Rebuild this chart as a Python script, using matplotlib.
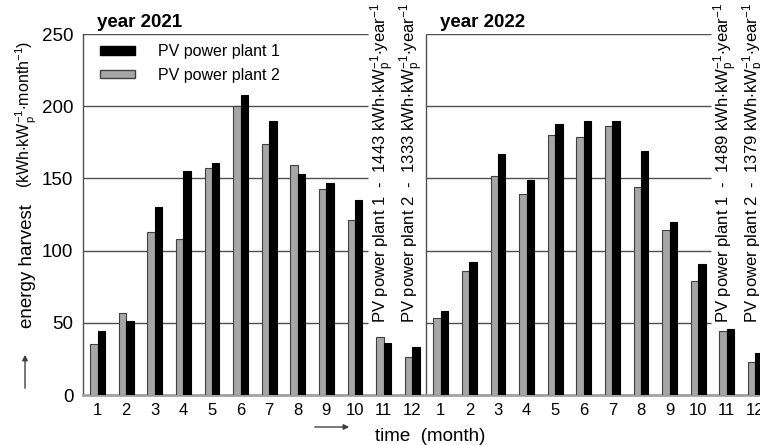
import numpy as np
import matplotlib
matplotlib.use("Agg")
import matplotlib.pyplot as plt
from matplotlib.patches import Patch

plt.rcParams['font.family'] = ['Liberation Sans', 'DejaVu Sans']
plt.rcParams['mathtext.fontset'] = 'custom'
plt.rcParams['mathtext.rm'] = 'Liberation Sans'
plt.rcParams['mathtext.it'] = 'Liberation Sans'
plt.rcParams['mathtext.default'] = 'regular'

# monthly energy harvest (kWh/kWp/month)
months = list(range(1, 13))
years = ['2021', '2022']
plant1_2021 = [44, 51, 130, 155, 161, 208, 190, 153, 147, 135, 36, 33]
plant2_2021 = [35, 57, 113, 108, 157, 200, 174, 159, 143, 121, 40, 26]
plant1_2022 = [58, 92, 167, 149, 188, 190, 190, 169, 120, 91, 46, 29]
plant2_2022 = [53, 86, 152, 139, 180, 179, 186, 144, 114, 79, 44, 23]
# annual totals (kWh/kWp/year)
total1 = [1443, 1489]
total2 = [1333, 1379]

plant1 = plant1_2021 + plant1_2022
plant2 = plant2_2021 + plant2_2022
pos = np.arange(len(plant1))
labels = [str(m) for m in months] * 2

W, H = 760, 445
fig = plt.figure(figsize=(7.6, 4.45), dpi=100)
ax = fig.add_axes([83 / W, 50 / H, 690 / W, 361 / H])

bw = 0.26
ax.bar(pos - bw / 2, plant2, width=bw, color='#a6a6a6', edgecolor='#404040', linewidth=0.8, zorder=3)
ax.bar(pos + bw / 2, plant1, width=bw, color='black', edgecolor='black', linewidth=0.8, zorder=3)

ax.set_xlim(-0.51, -0.51 + 690 / 28.6)
ax.set_ylim(0, 250)
ax.set_yticks(range(0, 251, 50))
ax.set_xticks(pos)
ax.set_xticklabels(labels)
ax.tick_params(axis='y', length=0, pad=7, labelsize=13.5)
ax.tick_params(axis='x', length=0, pad=6, labelsize=12)

# grid segments for each year panel
for y in range(50, 251, 50):
    ax.hlines(y, -0.51, 9.45, color='#505050', lw=1, zorder=1)
    ax.hlines(y, 11.5, 21.45, color='#505050', lw=1, zorder=1)
ax.vlines(11.5, 0, 250, color='#505050', lw=1, zorder=1)

for s in ['top', 'right']:
    ax.spines[s].set_visible(False)
ax.spines['left'].set_color('#505050')
ax.spines['left'].set_linewidth(1)
ax.spines['bottom'].set_color('#a0a0a0')
ax.spines['bottom'].set_linewidth(2)

unit_y = r'kWh$\cdot$kW$\mathregular{_p^{-1}}$$\cdot$year$\mathregular{^{-1}}$'
for i in range(2):
    ax.text(12 * i + 10 + 0.12, 50, f'PV power plant 1  -  {total1[i]} ' + unit_y,
            rotation=90, rotation_mode='anchor', ha='left', va='baseline', fontsize=12)
    ax.text(12 * i + 11 + 0.12, 50, f'PV power plant 2  -  {total2[i]} ' + unit_y,
            rotation=90, rotation_mode='anchor', ha='left', va='baseline', fontsize=12)

fig.text(97 / W, 1 - 27 / H, 'year ' + years[0], fontsize=13.5, weight='bold', va='baseline')
fig.text(440 / W, 1 - 27 / H, 'year ' + years[1], fontsize=13.5, weight='bold', va='baseline')

handles = [Patch(facecolor='black', edgecolor='black', label='PV power plant 1'),
           Patch(facecolor='#a6a6a6', edgecolor='#404040', label='PV power plant 2')]
ax.legend(handles=handles, loc='upper left', bbox_to_anchor=(100 / W, 1 - 44 / H),
          bbox_transform=fig.transFigure, frameon=False, fontsize=11.5,
          handlelength=2.2, handleheight=0.45, handletextpad=1.4, labelspacing=0.55,
          borderpad=0, borderaxespad=0)

# axis labels
fig.text(27 / W, 1 - 328 / H, 'energy harvest', rotation=90, ha='center', va='bottom', fontsize=13.5)
fig.text(26 / W, 1 - 188 / H, r'(kWh$\cdot$kW$\mathregular{_p^{-1}}$$\cdot$month$\mathregular{^{-1}}$)',
         rotation=90, ha='center', va='bottom', fontsize=11.5)
fig.text(375 / W, 1 - 441 / H, 'time  (month)', fontsize=13.5, va='baseline')

ax.annotate('', xy=(25 / W, 1 - 352 / H), xytext=(25 / W, 1 - 391 / H), xycoords='figure fraction',
            arrowprops=dict(arrowstyle='-|>', color='#404040', lw=1, mutation_scale=8))
ax.annotate('', xy=(352 / W, 1 - 427 / H), xytext=(312 / W, 1 - 427 / H), xycoords='figure fraction',
            arrowprops=dict(arrowstyle='-|>', color='#404040', lw=1, mutation_scale=8))

fig.savefig('out.png', dpi=100)
